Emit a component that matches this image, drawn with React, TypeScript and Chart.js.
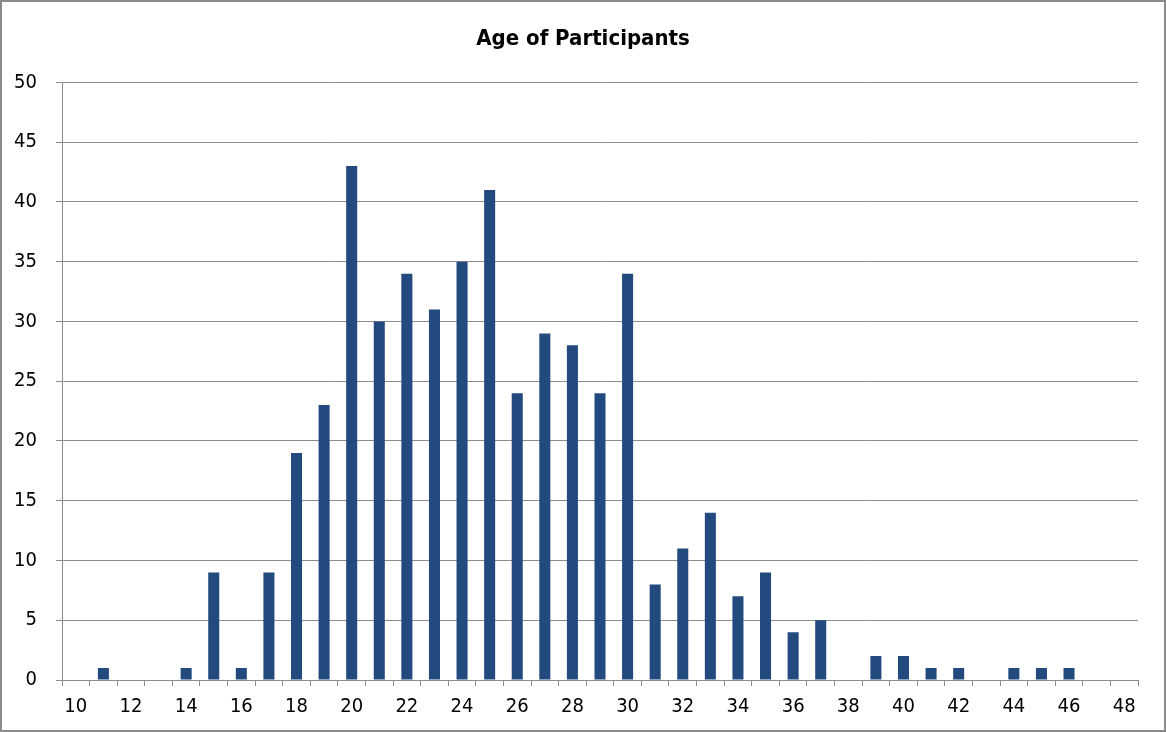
import React, { useEffect, useRef } from "react";
import { Chart, registerables } from "chart.js";

Chart.register(...registerables);

const ages: string[] = [
  "10", "11", "12", "13", "14", "15", "16", "17", "18", "19",
  "20", "21", "22", "23", "24", "25", "26", "27", "28", "29",
  "30", "31", "32", "33", "34", "35", "36", "37", "38", "39",
  "40", "41", "42", "43", "44", "45", "46", "47", "48",
];
const counts: number[] = [
  0, 1, 0, 0, 1, 9, 1, 9, 19, 23,
  43, 30, 34, 31, 35, 41, 24, 29, 28, 24,
  34, 8, 11, 14, 7, 9, 4, 5, 0, 2,
  2, 1, 1, 0, 1, 1, 1, 0, 0,
];
const titleText = "Age of Participants";
const yMin = 0;
const yMax = 50;
const yStep = 5;

const FONT = "'DejaVu Sans Condensed', 'DejaVu Sans', sans-serif";
const GRID = "#8c8c8c";

export default function App() {
  const ref = useRef<HTMLCanvasElement | null>(null);
  useEffect(() => {
    document.body.style.margin = "0";
    const ctx = ref.current!;
    const chart = new Chart(ctx, {
      type: "bar",
      data: {
        labels: ages,
        datasets: [
          {
            data: counts,
            backgroundColor: "#234a7e",
            borderWidth: 0,
            barPercentage: 0.4,
            categoryPercentage: 1,
          },
        ],
      },
      options: {
        animation: false,
        responsive: false,
        layout: { padding: { left: 0, right: 0, top: 0, bottom: 0 } },
        plugins: {
          legend: { display: false },
          tooltip: { enabled: false },
          title: {
            display: true,
            text: titleText,
            color: "#000",
            font: { family: FONT, size: 22, weight: "bold" },
            padding: { top: 24, bottom: 30 },
          },
        },
        scales: {
          x: {
            afterFit: (s: any) => {
              s.height = 50;
            },
            grid: {
              offset: true,
              drawOnChartArea: false,
              drawTicks: true,
              tickLength: 6,
              color: GRID,
            },
            border: { display: true, color: GRID, width: 1 },
            ticks: {
              autoSkip: false,
              maxRotation: 0,
              color: "#000",
              padding: 9,
              font: { family: FONT, size: 20 },
              callback: function (this: any, _v: any, i: number) {
                const l = ages[i];
                return Number(l) % 2 === 0 ? l : "";
              },
            },
          },
          y: {
            min: yMin,
            max: yMax,
            afterFit: (s: any) => {
              s.width = 60;
            },
            grid: {
              color: GRID,
              tickLength: 6,
              drawTicks: true,
            },
            border: { display: true, color: GRID, width: 1 },
            ticks: {
              stepSize: yStep,
              color: "#000",
              padding: 19,
              font: { family: FONT, size: 20 },
            },
          },
          yRightSpacer: {
            position: "right",
            min: yMin,
            max: yMax,
            afterFit: (s: any) => {
              s.width = 26;
            },
            grid: { display: false, drawTicks: false },
            border: { display: false },
            ticks: { display: false },
          },
        },
      },
    });
    return () => chart.destroy();
  }, []);
  return (
    <div
      style={{
        position: "fixed",
        left: 0,
        top: 0,
        width: 1166,
        height: 732,
        boxSizing: "border-box",
        border: "2px solid #8a8a8a",
        background: "#fff",
      }}
    >
      <canvas ref={ref} width={1162} height={728} style={{ display: "block", width: 1162, height: 728 }} />
    </div>
  );
}
